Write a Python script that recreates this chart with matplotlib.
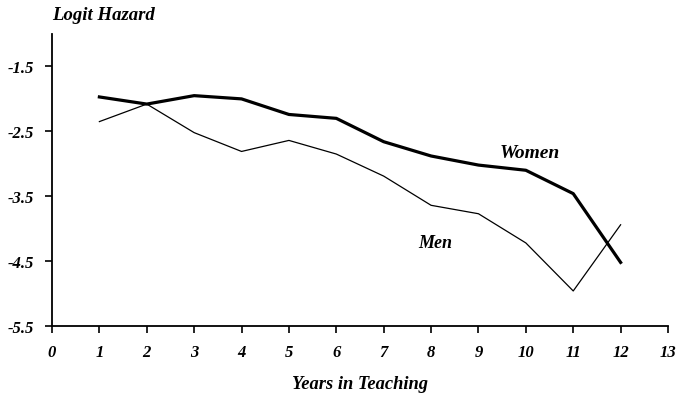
import matplotlib
matplotlib.use('agg')
import matplotlib.pyplot as plt

years = [1, 2, 3, 4, 5, 6, 7, 8, 9, 10, 11, 12]
women = [-1.97, -2.08, -1.95, -2.00, -2.24, -2.30, -2.66, -2.88, -3.02, -3.10, -3.46, -4.52]
men = [-2.35, -2.08, -2.52, -2.81, -2.64, -2.85, -3.19, -3.64, -3.77, -4.22, -4.96, -3.94]
xticks = list(range(0, 14))
yticks = [-1.5, -2.5, -3.5, -4.5, -5.5]

font = dict(family='Liberation Serif', weight='bold', style='italic')

fig = plt.figure(figsize=(6.78, 4.02), dpi=100)
ax = fig.add_axes([52/678, 1 - 327/402, 616/678, 292/402])

ax.plot(years, women, color='black', lw=2.3, solid_joinstyle='round')
ax.plot(years, men, color='black', lw=0.9)

ax.set_xlim(0, 13)
ax.set_ylim(-5.5, -1.0)
ax.set_xticks(xticks)
ax.set_yticks(yticks)
ax.set_xticklabels([str(x) for x in xticks], fontdict=dict(size=12, **font))
ax.set_yticklabels([str(y) for y in yticks], fontdict=dict(size=12, **font))
ax.tick_params(direction='out', length=5, width=1.2, pad=8)

for s in ['top', 'right']:
    ax.spines[s].set_visible(False)
for s in ['left', 'bottom']:
    ax.spines[s].set_linewidth(1.3)

ax.text(9.45, -2.83, 'Women', fontsize=14, va='center', ha='left', **font)
ax.text(7.72, -4.21, 'Men', fontsize=13, va='center', ha='left', **font)

fig.text(52/678, 1 - 15/402, 'Logit Hazard', fontsize=13.5, va='center', ha='left', **font)
fig.text(360/678, 1 - 385/402, 'Years in Teaching', fontsize=13.3, va='center', ha='center', **font)

fig.savefig('out.png', dpi=100)
